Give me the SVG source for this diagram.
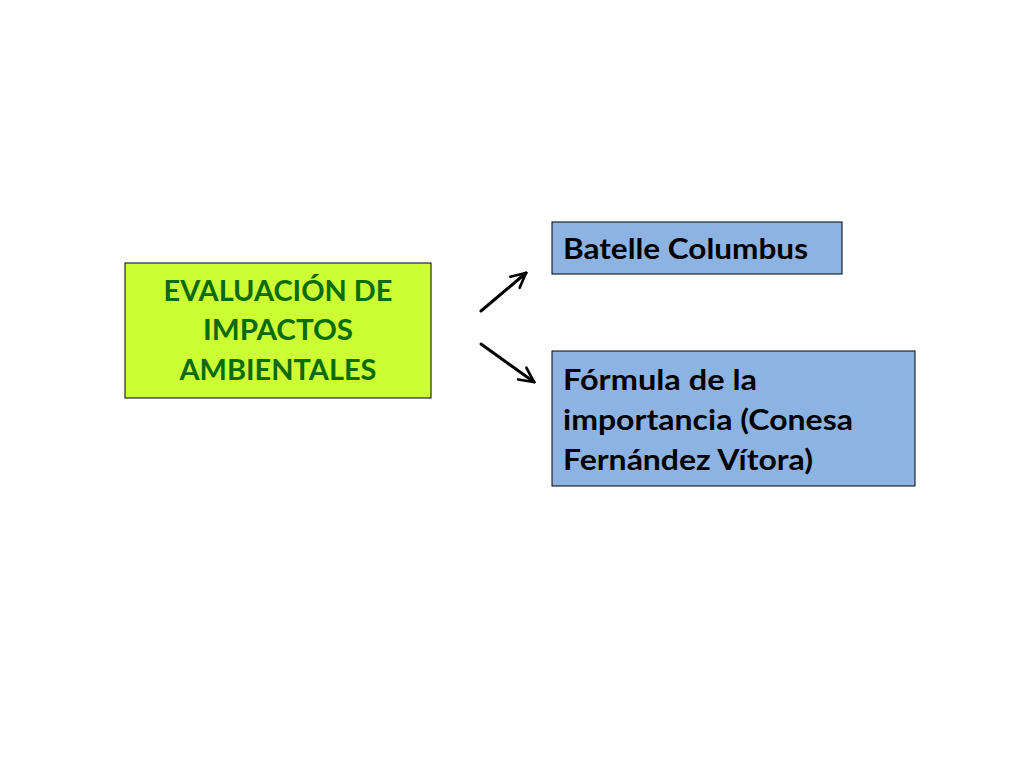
<svg xmlns="http://www.w3.org/2000/svg" width="1024" height="768" viewBox="0 0 1024 768">
<style>
.t{font-family:Lato,"Open Sans","Liberation Sans",sans-serif;font-weight:bold;font-size:29px}
.g{fill:#0a6b0a;text-anchor:middle}
.b{fill:#000}
.box{stroke:#000;stroke-width:1}
</style>
<defs>
<marker id="ah" viewBox="0 0 10 10" refX="9" refY="5" markerWidth="6" markerHeight="6" orient="auto" markerUnits="strokeWidth">
<path d="M1,1 L9,5 L1,9" fill="none" stroke="#000" stroke-width="1.5" stroke-linecap="round" stroke-linejoin="miter"/>
</marker>
</defs>
<rect width="1024" height="768" fill="#fff"/>
<g id="evaluacion">
<rect class="box" x="125" y="263" width="306" height="135" fill="#ccff33" stroke="#333"/>
<text class="t g" x="278" y="301" textLength="229" lengthAdjust="spacingAndGlyphs">EVALUACIÓN DE</text>
<text class="t g" x="278" y="340" textLength="150" lengthAdjust="spacingAndGlyphs">IMPACTOS</text>
<text class="t g" x="278" y="380" textLength="197" lengthAdjust="spacingAndGlyphs">AMBIENTALES</text>
</g>
<g id="batelle">
<rect class="box" x="552" y="222" width="290" height="52" fill="#8db3e2"/>
<text class="t b" x="563" y="259" textLength="245" lengthAdjust="spacingAndGlyphs">Batelle Columbus</text>
</g>
<g id="formula">
<rect class="box" x="552" y="351" width="363" height="135" fill="#8db3e2"/>
<text class="t b" x="563" y="390" textLength="194" lengthAdjust="spacingAndGlyphs">Fórmula de la</text>
<text class="t b" x="563" y="430" textLength="290" lengthAdjust="spacingAndGlyphs">importancia (Conesa</text>
<text class="t b" x="563" y="470" textLength="250" lengthAdjust="spacingAndGlyphs">Fernández Vítora)</text>
</g>
<g id="connectors" stroke="#000" stroke-width="3" fill="none" stroke-linecap="round">
<line x1="481" y1="311" x2="526" y2="273" marker-end="url(#ah)"/>
<line x1="481" y1="344" x2="534" y2="382" marker-end="url(#ah)"/>
</g>
</svg>
